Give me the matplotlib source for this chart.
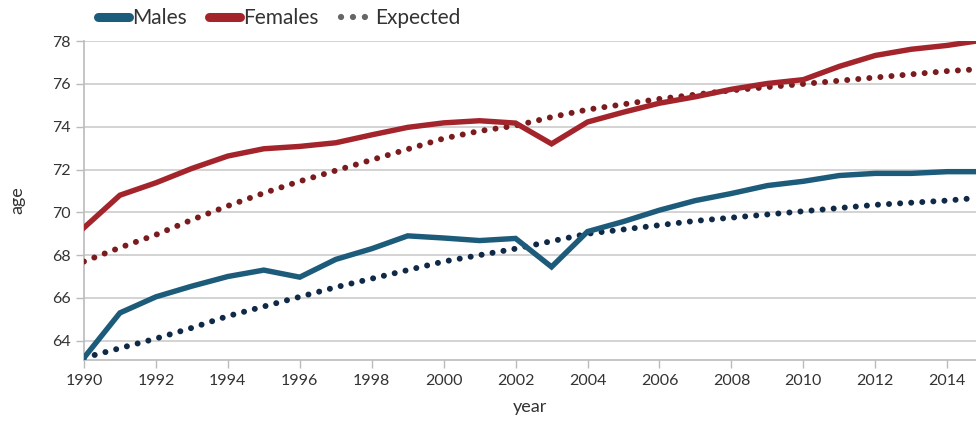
import matplotlib
matplotlib.use("Agg")
import matplotlib.pyplot as plt
from matplotlib.lines import Line2D

years = list(range(1990, 2016))
males = [63.2, 65.3, 66.05, 66.55, 67.0, 67.3, 66.97, 67.8, 68.3, 68.9, 68.8, 68.68, 68.78,
         67.45, 69.1, 69.57, 70.1, 70.55, 70.88, 71.25, 71.45, 71.72, 71.82, 71.82, 71.9, 71.9]
females = [69.28, 70.8, 71.38, 72.05, 72.63, 72.97, 73.08, 73.25, 73.62, 73.97, 74.18, 74.28, 74.17,
           73.2, 74.22, 74.68, 75.1, 75.4, 75.75, 76.02, 76.2, 76.82, 77.33, 77.62, 77.8, 78.05]
expected_males = [63.2, 63.65, 64.1, 64.6, 65.15, 65.6, 66.05, 66.5, 66.9, 67.3, 67.7, 68.0, 68.3,
                  68.65, 69.0, 69.2, 69.4, 69.6, 69.75, 69.9, 70.05, 70.2, 70.35, 70.45, 70.55, 70.7]
expected_females = [67.7, 68.35, 68.95, 69.65, 70.3, 70.9, 71.45, 71.95, 72.45, 72.95, 73.45, 73.8, 74.05,
                    74.45, 74.8, 75.05, 75.3, 75.5, 75.7, 75.85, 76.0, 76.15, 76.3, 76.45, 76.6, 76.7]

male_color = "#1d5b7a"
female_color = "#a3252b"
exp_male_color = "#0f2947"
exp_female_color = "#7a1b1d"
grid_color = "#cccccc"
text_color = "#333333"

plt.rcParams["font.family"] = ["Lato", "DejaVu Sans"]

fig = plt.figure(figsize=(9.76, 4.24), dpi=100)
ax = fig.add_axes([0.086, 0.151, 0.914, 0.752])

dot_style = (0, (0.01, 1.85))
ax.plot(years, expected_females, color=exp_female_color, lw=4.3, linestyle=dot_style,
        dash_capstyle="round", zorder=3)
ax.plot(years, expected_males, color=exp_male_color, lw=4.3, linestyle=dot_style,
        dash_capstyle="round", zorder=3)
ax.plot(years, males, color=male_color, lw=3.9, solid_joinstyle="miter", zorder=4)
ax.plot(years, females, color=female_color, lw=3.9, solid_joinstyle="miter", zorder=4)

ax.set_xlim(1990, 2014.8)
ax.set_ylim(63.1, 78)
ax.set_xticks(range(1990, 2015, 2))
ax.set_yticks(range(64, 79, 2))
ax.yaxis.grid(True, color=grid_color, lw=1.2)
ax.set_axisbelow(True)

for side in ["top", "right"]:
    ax.spines[side].set_visible(False)
for side in ["left", "bottom"]:
    ax.spines[side].set_color("#bbbbbb")
    ax.spines[side].set_linewidth(1.2)
ax.tick_params(axis="both", colors="#bbbbbb", labelcolor=text_color, labelsize=11.5,
               length=6, width=1)
ax.tick_params(axis="x", pad=4)

ax.set_xlabel("year", fontsize=13, color=text_color, labelpad=8)
ax.set_ylabel("age", fontsize=13, color=text_color, labelpad=19)

handles = [
    Line2D([], [], color=male_color, lw=6.5, solid_capstyle="round"),
    Line2D([], [], color=female_color, lw=6.5, solid_capstyle="round"),
    Line2D([], [], color="#666666", lw=4.5, linestyle=(0, (0.01, 1.9)), dash_capstyle="round"),
]
fig.legend(handles, ["Males", "Females", "Expected"], loc="center left",
           bbox_to_anchor=(0.081, 0.958), ncol=3, frameon=False, fontsize=15,
           handlelength=1.5, handletextpad=0.15, columnspacing=1.05, labelcolor=text_color)

fig.savefig("out.png", dpi=100)
